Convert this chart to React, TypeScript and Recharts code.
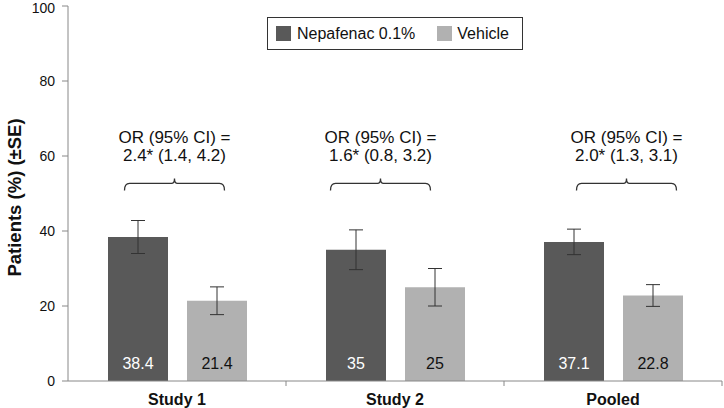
import { BarChart, Bar, XAxis, YAxis, ErrorBar, LabelList, Legend, Label } from "recharts";

const categories = ["Study 1", "Study 2", "Pooled"];
const nepafenac = [38.4, 35, 37.1];
const vehicle = [21.4, 25, 22.8];
const nepafenacSE = [4.4, 5.3, 3.4];
const vehicleSE = [3.7, 5.0, 2.9];
const orRatios = ["2.4* (1.4, 4.2)", "1.6* (0.8, 3.2)", "2.0* (1.3, 3.1)"];
const yTicks = [0, 20, 40, 60, 80, 100];

const data = categories.map((name, i) => ({
  name,
  nep: nepafenac[i],
  veh: vehicle[i],
  nepSE: nepafenacSE[i],
  vehSE: vehicleSE[i],
}));

// layout for the OR annotations (hand placed in the original)
const BRACE_LEVEL = 52.7;
const braceShift = [-3, -15, 13];
const BAR_GAP = 19;
const DARK = "#595959";
const LIGHT = "#b1b1b1";
const FONT = "'Liberation Sans', Arial, sans-serif";

const renderBrace = (props: any) => {
  const vb = props.viewBox || props;
  const { x, y, width, height } = vb;
  const idx = props.index;
  const val = Number(props.value);
  if (!val || idx == null) return null;
  const pxPerUnit = height / val;
  const bottom = y + height;
  const yb = bottom - BRACE_LEVEL * pxPerUnit;
  const cx = x + width + BAR_GAP / 2 + braceShift[idx];
  const x1 = cx - 50;
  const x2 = cx + 50;
  const d = `M${x1},${yb + 7} Q${x1},${yb} ${x1 + 5},${yb} L${cx - 3},${yb} Q${cx},${yb} ${cx},${yb - 5} Q${cx},${yb} ${cx + 3},${yb} L${x2 - 5},${yb} Q${x2},${yb} ${x2},${yb + 7}`;
  return (
    <g>
      <path d={d} fill="none" stroke="#333" strokeWidth={1.3} />
      <text x={cx} y={yb - 46} textAnchor="middle" dominantBaseline="central" fontSize={17} fill="#111" fontFamily={FONT}>
        OR (95% CI) =
      </text>
      <text x={cx} y={yb - 28} textAnchor="middle" dominantBaseline="central" fontSize={17} fill="#111" fontFamily={FONT}>
        {orRatios[idx]}
      </text>
    </g>
  );
};

const XTick = (props: any) => {
  const { x, y, payload } = props;
  const half = payload.offset || props.width / (props.visibleTicksCount || categories.length) / 2;
  return (
    <g>
      <line x1={x + half} x2={x + half} y1={y} y2={y + 5} stroke="#888" />
      <text x={x} y={y + 18} textAnchor="middle" dominantBaseline="central" fontSize={16} fontWeight="bold" fill="#111" fontFamily={FONT}>
        {payload.value}
      </text>
    </g>
  );
};

const renderYTitle = (props: any) => {
  const vb = props.viewBox;
  const cx = vb.x + 14;
  const cy = vb.y + vb.height / 2 + 4;
  return (
    <text x={cx} y={cy} transform={`rotate(-90 ${cx} ${cy})`} textAnchor="middle" dominantBaseline="central" fontSize={18.5} fontWeight="bold" fill="#111" fontFamily={FONT}>
      Patients (%) (±SE)
    </text>
  );
};

const renderLegend = () => (
  <div
    style={{
      boxSizing: "border-box",
      width: 256,
      height: 33,
      border: "1px solid #333",
      background: "#fff",
      display: "flex",
      alignItems: "center",
      fontFamily: FONT,
      fontSize: 16,
      color: "#111",
      paddingLeft: 8,
    }}
  >
    <span style={{ width: 15, height: 15, background: DARK, display: "inline-block" }} />
    <span style={{ marginLeft: 6 }}>Nepafenac 0.1%</span>
    <span style={{ width: 15, height: 15, background: LIGHT, display: "inline-block", marginLeft: 22 }} />
    <span style={{ marginLeft: 5 }}>Vehicle</span>
  </div>
);

export default function App() {
  return (
    <div style={{ width: 724, height: 408, background: "#fff", fontFamily: FONT }}>
      <style>{"body{margin:0}"}</style>
      <BarChart
        width={724}
        height={408}
        data={data}
        margin={{ top: 6, right: 2, left: 0, bottom: 0 }}
        barGap={BAR_GAP}
        barSize={60}
      >
        <XAxis
          dataKey="name"
          height={27}
          axisLine={{ stroke: "#888" }}
          tickLine={false}
          tickSize={0}
          tickMargin={0}
          tick={<XTick />}
        />
        <YAxis
          width={68}
          domain={[0, 100]}
          ticks={yTicks}
          axisLine={{ stroke: "#888" }}
          tickLine={{ stroke: "#888" }}
          tickSize={6}
          tickMargin={7}
          tick={{ fontSize: 14, fill: "#111", fontFamily: FONT }}
        >
          <Label content={renderYTitle} />
        </YAxis>
        <Legend
          layout="horizontal"
          verticalAlign="middle"
          align="center"
          content={renderLegend}
          wrapperStyle={{ top: 17, left: 267, width: 256, height: 33 }}
        />
        <Bar dataKey="nep" name="Nepafenac 0.1%" fill={DARK} isAnimationActive={false}>
          <ErrorBar dataKey="nepSE" width={7} stroke="#333" strokeWidth={1} />
          <LabelList dataKey="nep" position="insideBottom" offset={12} fill="#fff" fontSize={16} fontFamily={FONT} />
          <LabelList dataKey="nep" content={renderBrace} />
        </Bar>
        <Bar dataKey="veh" name="Vehicle" fill={LIGHT} isAnimationActive={false}>
          <ErrorBar dataKey="vehSE" width={7} stroke="#333" strokeWidth={1} />
          <LabelList dataKey="veh" position="insideBottom" offset={12} fill="#111" fontSize={16} fontFamily={FONT} />
        </Bar>
      </BarChart>
    </div>
  );
}
